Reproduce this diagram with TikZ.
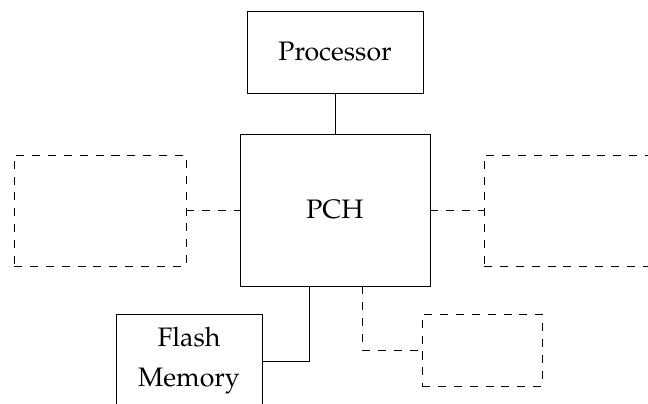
\documentclass[tikz,border=0pt]{standalone}
\usepackage[T1]{fontenc}
\usepackage{mathpazo}
\usetikzlibrary{positioning}
\tikzset{
  block/.style = {
    draw, line width=0.6pt, inner sep=0pt, align=center,
    font=\fontsize{19}{28.5}\selectfont
  },
  ghost/.style = {
    draw, line width=0.6pt, dash pattern=on 5.7pt off 5.6pt, inner sep=0pt
  },
  link/.style = {line width=0.6pt},
  dashlink/.style = {line width=0.6pt, dash pattern=on 5.7pt off 5.6pt}
}

\begin{document}
\begin{tikzpicture}

    \useasboundingbox (0,0) rectangle (16.2,10.075);

    % Blocks
    \node[block, minimum width=4.4cm, minimum height=2.05cm] (cpu) at (8.375,8.775) {Processor};
    \node[block, minimum width=4.75cm, minimum height=3.8cm] (pch) at (8.375,4.825) {PCH};
    \node[block, minimum width=3.65cm, minimum height=2.35cm] (flash) at (4.725,1.05) {Flash\\Memory};

    % Unnamed devices
    \node[ghost, minimum width=4.3cm, minimum height=2.775cm] (left) at (2.5,4.8125) {};
    \node[ghost, minimum width=4.3cm, minimum height=2.775cm] (right) at (14.25,4.8125) {};
    \node[ghost, minimum width=3.0cm, minimum height=1.8cm] (small) at (12.05,1.325) {};

    % Links
    \draw[link] (cpu) -- (pch);
    \draw[link] (pch.south -| 7.725,0) |- (flash.east);
    \draw[dashlink] (left.east |- pch.west) -- (pch.west);
    \draw[dashlink] (pch.east) -- (right.west |- pch.east);
    \draw[dashlink] (pch.south -| 9.05,0) |- (small.west);

\end{tikzpicture}
\end{document}
